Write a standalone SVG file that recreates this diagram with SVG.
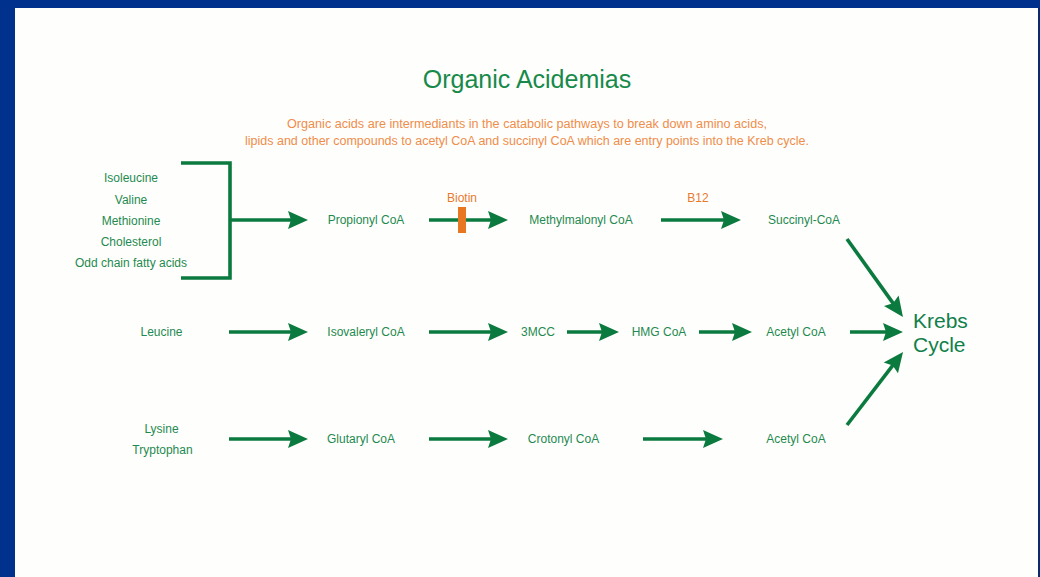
<svg xmlns="http://www.w3.org/2000/svg" width="1040" height="577" viewBox="0 0 1040 577">
<style>
.lbl{font-family:"Liberation Sans",Arial,sans-serif;font-size:12px;fill:#1f8a4f;text-anchor:middle}
.org{font-family:"Liberation Sans",Arial,sans-serif;font-size:12px;fill:#e87a2e;text-anchor:middle}
.sub{font-family:"Liberation Sans",Arial,sans-serif;font-size:12px;fill:#ef8d4a;text-anchor:middle}
.ttl{font-family:"Liberation Sans",Arial,sans-serif;font-size:25px;fill:#178a4a;text-anchor:middle}
.krebs{font-family:"Liberation Sans",Arial,sans-serif;font-size:21px;fill:#10804a}
.arr{stroke:#0b7a3e;stroke-width:3.6;fill:none;marker-end:url(#ah)}
.br{stroke:#0b7a3e;stroke-width:3.6;fill:none}
</style>
<defs>
<marker id="ah" markerUnits="userSpaceOnUse" markerWidth="20" markerHeight="18" refX="6" refY="9" orient="auto" overflow="visible">
<path d="M0,0 L20,9 L0,18 L3,9 z" fill="#0b7a3e"/>
</marker>
</defs>
<rect x="0" y="0" width="1040" height="577" fill="#00318c"/>
<rect x="15" y="8" width="1023" height="569" fill="#fefefd"/>
<rect x="1038" y="8" width="2" height="569" fill="#0a2a6e"/>

<g id="title">
<text class="ttl" x="527" y="88">Organic Acidemias</text>
</g>
<g id="subtitle">
<text class="sub" x="527" y="128" textLength="480" lengthAdjust="spacingAndGlyphs">Organic acids are intermediants in the catabolic pathways to break down amino acids,</text>
<text class="sub" x="527" y="145" textLength="564" lengthAdjust="spacingAndGlyphs">lipids and other compounds to acetyl CoA and succinyl CoA which are entry points into the Kreb cycle.</text>
</g>

<g id="connectors">
<path class="br" d="M181,163 H230 V278 H181"/>
<line class="arr" x1="230" y1="220" x2="294" y2="220"/>
<line class="arr" x1="429" y1="220" x2="494" y2="220"/>
<line class="arr" x1="661" y1="220" x2="727" y2="220"/>
<line class="arr" x1="847" y1="239" x2="894.8" y2="305.6"/>
<line class="arr" x1="229" y1="332" x2="294" y2="332"/>
<line class="arr" x1="429" y1="332" x2="494" y2="332"/>
<line class="arr" x1="567" y1="332" x2="605" y2="332"/>
<line class="arr" x1="699" y1="332" x2="738" y2="332"/>
<line class="arr" x1="850" y1="332" x2="889" y2="332"/>
<line class="arr" x1="229" y1="439" x2="294" y2="439"/>
<line class="arr" x1="429" y1="439" x2="494" y2="439"/>
<line class="arr" x1="643" y1="439" x2="709" y2="439"/>
<line class="arr" x1="847" y1="425" x2="894.5" y2="363.1"/>
</g>

<g id="biotin">
<rect x="458" y="207" width="8" height="26" fill="#e87722"/>
<text class="org" x="462" y="202">Biotin</text>
</g>
<g id="b12">
<text class="org" x="698" y="202">B12</text>
</g>

<g id="sources1">
<text class="lbl" x="131" y="182">Isoleucine</text>
<text class="lbl" x="131" y="203.5">Valine</text>
<text class="lbl" x="131" y="224.5">Methionine</text>
<text class="lbl" x="131" y="245.5">Cholesterol</text>
<text class="lbl" x="131" y="267">Odd chain fatty acids</text>
</g>
<g id="propionyl"><text class="lbl" x="366" y="224">Propionyl CoA</text></g>
<g id="methylmalonyl"><text class="lbl" x="581" y="224">Methylmalonyl CoA</text></g>
<g id="succinyl"><text class="lbl" x="804" y="224">Succinyl-CoA</text></g>

<g id="leucine"><text class="lbl" x="161.5" y="336">Leucine</text></g>
<g id="isovaleryl"><text class="lbl" x="366" y="336">Isovaleryl CoA</text></g>
<g id="mcc"><text class="lbl" x="538" y="336">3MCC</text></g>
<g id="hmg"><text class="lbl" x="659" y="336">HMG CoA</text></g>
<g id="acetyl1"><text class="lbl" x="796" y="336">Acetyl CoA</text></g>

<g id="sources3">
<text class="lbl" x="161.5" y="433">Lysine</text>
<text class="lbl" x="162.5" y="454">Tryptophan</text>
</g>
<g id="glutaryl"><text class="lbl" x="361" y="443">Glutaryl CoA</text></g>
<g id="crotonyl"><text class="lbl" x="563.5" y="443">Crotonyl CoA</text></g>
<g id="acetyl2"><text class="lbl" x="796" y="443">Acetyl CoA</text></g>

<g id="krebs">
<text class="krebs" x="913" y="328">Krebs</text>
<text class="krebs" x="913" y="352">Cycle</text>
</g>
</svg>
